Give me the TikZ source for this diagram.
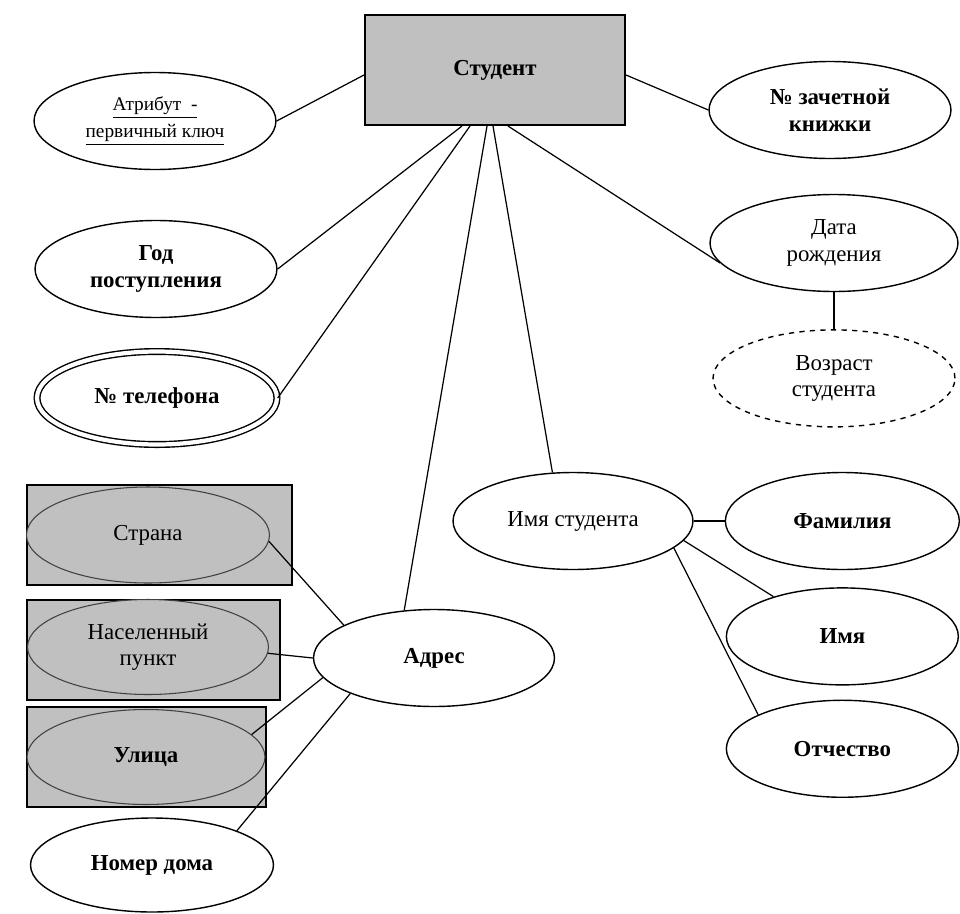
\documentclass[tikz,border=0pt]{standalone}
\usepackage{fontspec}
\setmainfont{Liberation Serif}
\usetikzlibrary{shapes.geometric,positioning,calc}
\definecolor{boxgray}{RGB}{192,192,192}
\begin{document}
\begin{tikzpicture}[x=0.02cm,y=-0.02cm,font=\fontsize{13}{15}\selectfont,line width=0.7pt,
  ent/.style={draw,line width=1.2pt,fill=boxgray,minimum width=5.2cm,minimum height=2.2cm},
  attr/.style={draw,ellipse,line width=0.8pt,minimum width=4.84cm,minimum height=1.94cm,inner sep=0pt,align=center},
  multi/.style={attr,double,double distance=2.4pt},
  deriv/.style={attr,dashed},
  grp/.style={draw,fill=boxgray,line width=0.6pt},
  part/.style={attr,fill=boxgray,draw=black!75,line width=0.6pt}]
  \useasboundingbox (0,0) rectangle (960,913);
  % entity and its attributes
  \node[ent](st) at (495,70){\textbf{Студент}};
  \node[attr,font=\fontsize{11}{15}\selectfont](atr) at (155,121){\underline{Атрибут\ \ -}\\\underline{первичный ключ}};
  \node[attr](zach) at (830,110){\textbf{№ зачетной}\\\textbf{книжки}};
  \node[attr](god) at (156,269){\textbf{Год}\\\textbf{поступления}};
  \node[multi,minimum width=4.8cm,minimum height=1.86cm](tel) at (157,398){\textbf{№ телефона}};
  \node[attr,minimum width=4.96cm](dat) at (834,243){Дата\\рождения};
  \node[deriv,below=0.74cm of dat](voz){Возраст\\студента};
  \node[attr,minimum width=4.8cm](ims) at (573,521){Имя студента};
  \node[attr,minimum width=4.68cm,right=0.62cm of ims](fam){\textbf{Фамилия}};
  \node[attr,minimum width=4.64cm,below=0.34cm of fam](imy){\textbf{Имя}};
  \node[attr,minimum width=4.64cm,below=0.28cm of imy](otc){\textbf{Отчество}};
  \node[attr,minimum width=4.82cm](adr) at (434,658){\textbf{Адрес}};
  % parts of the address
  \draw[grp] (27,485) rectangle (292,585);
  \draw[grp] (27,600) rectangle (280,700);
  \draw[grp] (27,707) rectangle (266,807);
  \node[part,minimum width=4.86cm,minimum height=1.92cm](str) at (148,535){Страна};
  \node[part,minimum width=4.82cm,minimum height=1.9cm](nas) at (148,647){Населенный\\пункт};
  \node[part,minimum width=4.76cm,minimum height=1.9cm](ul) at (146,757){\textbf{Улица}};
  \node[attr,minimum width=4.86cm,minimum height=1.88cm](nd) at (152,865){\textbf{Номер дома}};
  % connectors
  \draw ($(st.west)+(0,5)$)--(atr.east);
  \draw ($(st.east)+(0,5)$)--(zach.west);
  \draw ($(st.south)+(-33,0)$)--(god.east);
  \draw ($(st.south)+(-25,0)$)--(tel.east);
  \draw ($(st.south)+(-8,0)$)--(adr.122);
  \draw ($(st.south)+(-2,0)$)--(ims.113);
  \draw ($(st.south)+(13,0)$)--(dat.190);
  \draw (dat.south)--(voz.north);
  \draw (ims.east)--(fam.west);
  \draw (ims.-10)--(imy.150);
  \draw (ims.-15)--(otc.158);
  \draw (str.-3)--(adr.160);
  \draw (nas.-3)--(adr.west);
  \draw (ul.12)--(adr.190);
  \draw (nd.22)--(adr.203);
\end{tikzpicture}
\end{document}
